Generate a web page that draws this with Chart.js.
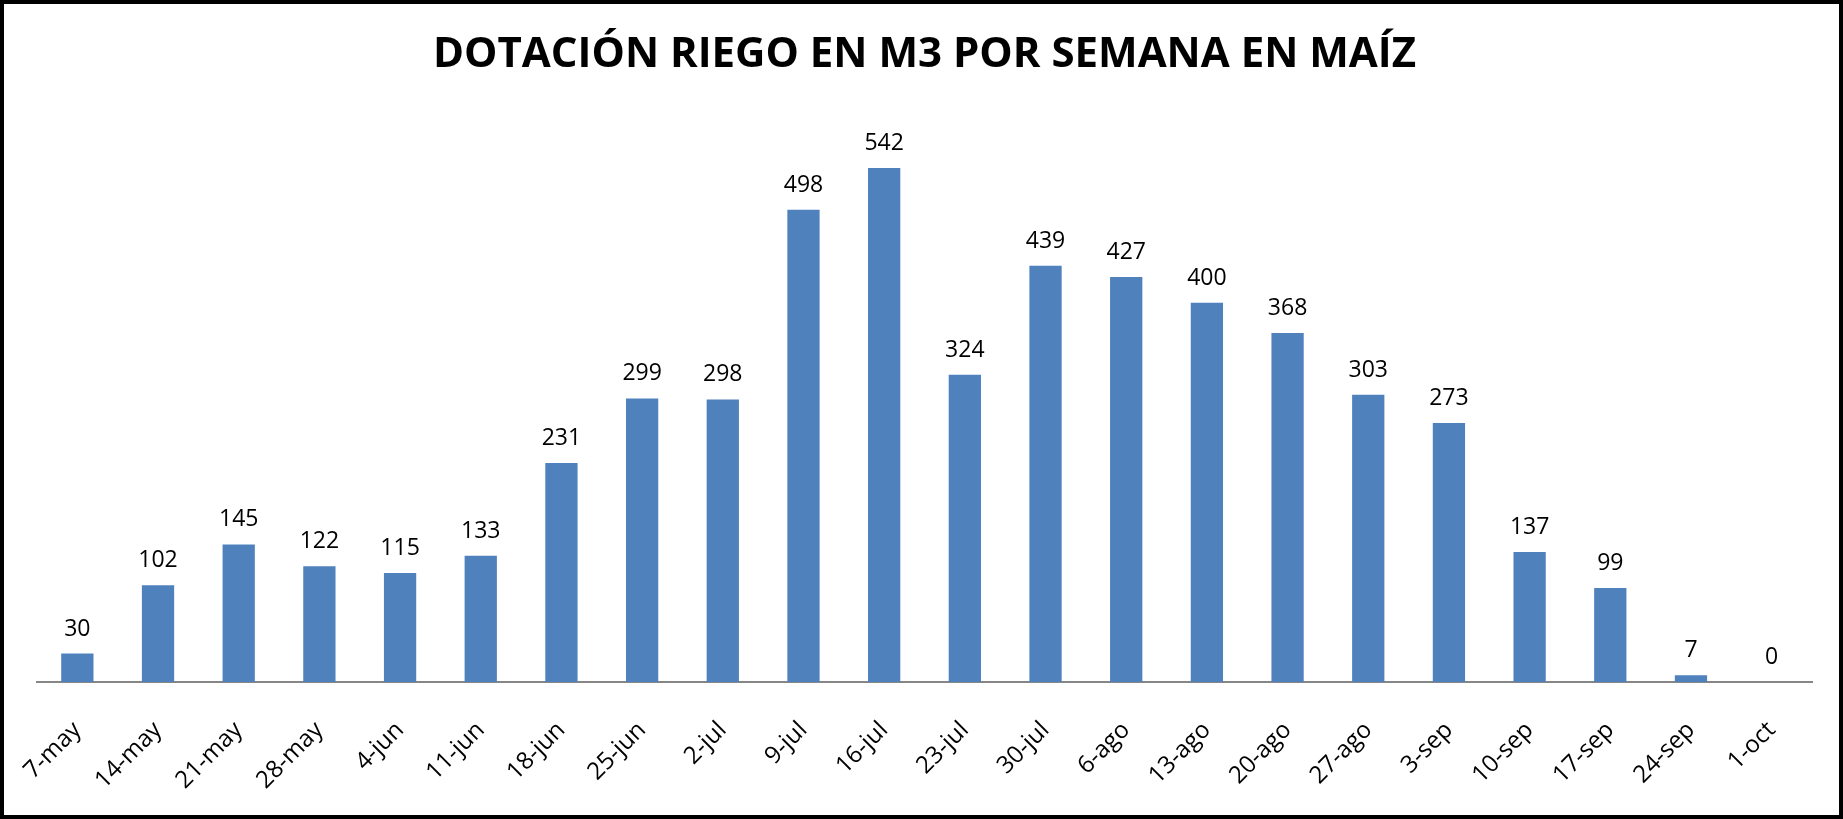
<!DOCTYPE html>
<html>
<head>
<meta charset="utf-8">
<script src="https://cdn.jsdelivr.net/npm/chart.js@4"></script>
<style>
    html, body { margin: 0; padding: 0; background: #fff; }
    #marco { position: relative; width: 1843px; height: 819px; }
    #grafico { position: absolute; left: 0; top: 0; }
    #borde {
        position: absolute; left: 0; top: 0; width: 1843px; height: 819px;
        box-sizing: border-box; border: 4px solid #000; pointer-events: none;
    }
</style>
</head>
<body>
<div id="marco">
    <canvas id="grafico" width="1843" height="819"></canvas>
    <div id="borde"></div>
</div>
<script>
// Datos
const semanas = ['7-may', '14-may', '21-may', '28-may', '4-jun', '11-jun', '18-jun', '25-jun',
    '2-jul', '9-jul', '16-jul', '23-jul', '30-jul', '6-ago', '13-ago', '20-ago', '27-ago',
    '3-sep', '10-sep', '17-sep', '24-sep', '1-oct'];
const dotacion = [30, 102, 145, 122, 115, 133, 231, 299, 298, 498, 542, 324, 439, 427, 400,
    368, 303, 273, 137, 99, 7, 0];
const titulo = 'DOTACIÓN RIEGO EN M3 POR SEMANA EN MAÍZ';

const FUENTE = '"Open Sans", "Liberation Sans", sans-serif';

// Etiquetas de valor encima de cada barra
const etiquetasValor = {
    id: 'etiquetasValor',
    afterDatasetsDraw(chart) {
        const ctx = chart.ctx;
        const meta = chart.getDatasetMeta(0);
        ctx.save();
        ctx.font = '23px ' + FUENTE;
        ctx.fillStyle = '#000';
        ctx.textAlign = 'center';
        ctx.textBaseline = 'alphabetic';
        meta.data.forEach((barra, i) => {
            ctx.fillText(String(dotacion[i]), barra.x, barra.y - 18);
        });
        ctx.restore();
    }
};

new Chart(document.getElementById('grafico'), {
    type: 'bar',
    data: {
        labels: semanas,
        datasets: [{
            data: dotacion,
            backgroundColor: '#4f81bd',
            borderWidth: 0,
            categoryPercentage: 1,
            barPercentage: 0.4
        }]
    },
    options: {
        responsive: false,
        animation: false,
        layout: { padding: { left: 37, right: 31, top: 0, bottom: 0 } },
        plugins: {
            legend: { display: false },
            tooltip: { enabled: false },
            title: {
                display: true,
                text: titulo,
                color: '#000',
                font: { family: FUENTE, size: 42, weight: 'bold' },
                padding: { top: 30, bottom: 32.6 }
            }
        },
        scales: {
            x: {
                grid: { display: false, drawTicks: false },
                border: { display: true, color: '#868686', width: 2 },
                ticks: {
                    color: '#000',
                    font: { family: FUENTE, size: 24 },
                    minRotation: 45,
                    maxRotation: 45,
                    padding: 34,
                    autoSkip: false
                },
                afterFit(scale) {
                    // el área del gráfico no se recorta por las etiquetas giradas
                    scale.height = 137;
                    scale.paddingLeft = 0;
                    scale.paddingRight = 0;
                }
            },
            y: {
                display: false,
                min: 0,
                max: 600
            }
        }
    },
    plugins: [etiquetasValor]
});
</script>
</body>
</html>
